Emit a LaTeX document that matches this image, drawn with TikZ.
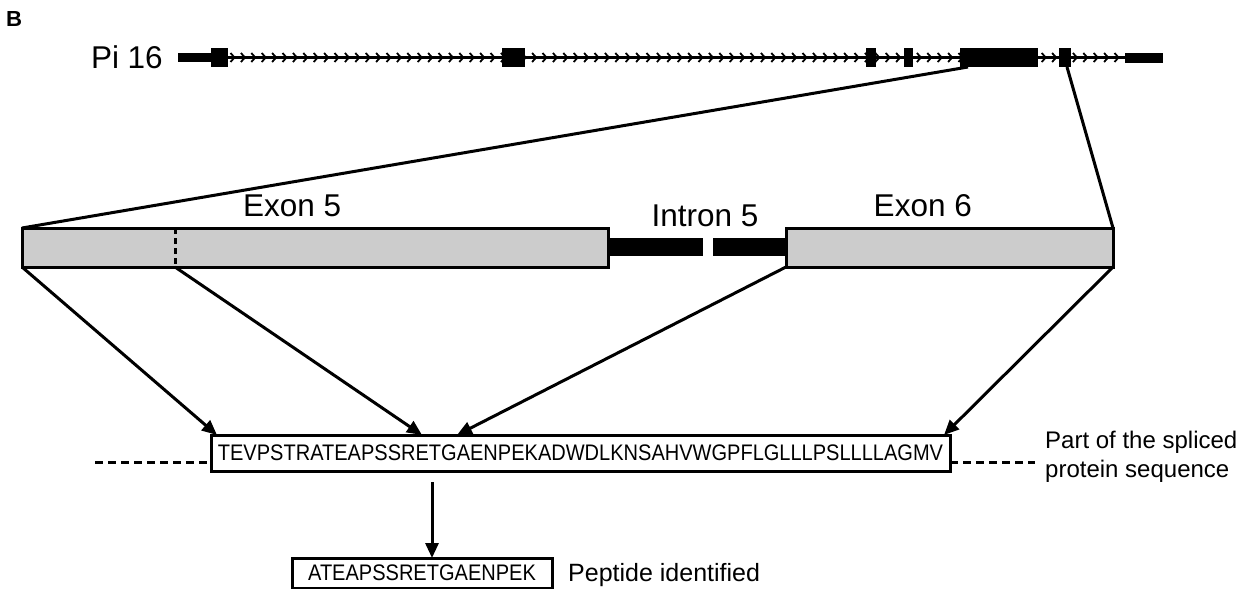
\documentclass[tikz,border=0pt]{standalone}
\usepackage{fontspec}
\setmainfont{Liberation Sans}
\newfontfamily\narrowfont[FakeStretch=0.89]{Liberation Sans}
\usetikzlibrary{arrows.meta,calc}
\definecolor{exgray}{HTML}{CCCCCC}
\tikzset{
  exonbox/.style={draw, line width=3pt, fill=exgray, inner sep=0pt, outer sep=0pt},
  blk/.style={fill=black, draw=none, inner sep=0pt, outer sep=0pt},
  seqbox/.style={draw, line width=3pt, fill=white, inner sep=0pt, outer sep=0pt},
  conn/.style={line width=3pt},
  arr/.style={line width=3pt, -{Triangle[length=15pt,width=13pt]}},
  dashline/.style={line width=3pt, dash pattern=on 8pt off 5pt},
  chev/.style={line width=1.8pt},
  lbl/.style={font=\fontsize{31.5}{36}\selectfont, inner sep=0pt},
  panel/.style={font=\fontsize{21}{25}\selectfont\bfseries, inner sep=0pt},
  side/.style={font=\fontsize{24}{29}\selectfont, inner sep=0pt, align=left},
  seqtxt/.style={font=\narrowfont\fontsize{22.5}{26}\selectfont}
}
\begin{document}
\begin{tikzpicture}[x=1pt,y=-1pt]
\useasboundingbox[fill=white] (0,0) rectangle (1253,589);

% panel letter
\node[panel, anchor=base west] (B) at (6,27) {\resizebox{16pt}{15pt}{B}};

% gene label
\node[lbl, anchor=base east] (pi) at (163,68) {Pi 16};

% gene structure
\node[blk, minimum width=33pt, minimum height=9pt] (g0) at (194.5,57.5) {};
\node[blk, minimum width=38pt, minimum height=10pt] (g7) at (1144,57.5) {};
\draw[line width=3pt] (g0.east) -- (g7.west);
\foreach \i in {0,...,85}
  \draw[chev] ({233+10.4*\i-2.5},53) -- ({233+10.4*\i+1.5},57.5) -- ({233+10.4*\i-2.5},62);
\node[blk, minimum width=17pt, minimum height=19pt] (e1) at (219.5,57.5) {};
\node[blk, minimum width=23pt, minimum height=19pt] (e2) at (513.5,57.5) {};
\node[blk, minimum width=10pt, minimum height=19pt] (e3) at (871,57.5) {};
\node[blk, minimum width=9pt, minimum height=19pt] (e4) at (908.5,57.5) {};
\node[blk, minimum width=78pt, minimum height=19pt] (e5) at (999,57.5) {};
\node[blk, minimum width=12pt, minimum height=19pt] (e6) at (1065,57.5) {};

% expanded region
\node[exonbox, minimum width=586pt, minimum height=39pt] (ex5) at (315,247.5) {};
\node[blk, minimum width=95pt, minimum height=18pt] (i1) at (655.5,247) {};
\node[blk, minimum width=73pt, minimum height=18pt] (i2) at (749.5,247) {};
\node[exonbox, minimum width=327pt, minimum height=39pt] (ex6) at (949.5,247.5) {};
\coordinate (d5t) at (175,228);
\coordinate (d5b) at (175,267);
\draw[line width=3pt, dash pattern=on 6pt off 4pt] (d5t) -- (d5b);

\node[lbl, anchor=base west] (l5) at (243,216) {Exon 5};
\node[lbl, anchor=base] (li5) at (705,226) {Intron 5};
\node[lbl, anchor=base east] (l6) at (972,216) {Exon 6};

% zoom lines
\draw[conn] ($(e5.south west)+(8,0)$) -- (ex5.north west);
\draw[conn] ($(e6.south)+(2,0)$) -- (ex6.north east);

% sequence
\node[seqbox, minimum width=739pt, minimum height=36pt, seqtxt] (seq) at (580.5,453) {TEVPSTRATEAPSSRETGAENPEKADWDLKNSAHVWGPFLGLLLPSLLLLAGMV};
\coordinate (dl) at (95,462);
\coordinate (dr) at (1035,462);
\draw[dashline] (dl) -- (dl -| seq.west);
\draw[dashline] (seq.east |- dr) -- (dr);
\node[side, anchor=west] (part) at (1045,457) {Part of the spliced\\protein sequence};

% arrows to sequence
\draw[arr] (ex5.south west) -- ($(seq.north west)+(6,0)$);
\draw[arr] (d5b) -- ($(seq.north west)+(211,0)$);
\draw[arr] (ex6.south west) -- ($(seq.north west)+(246,0)$);
\draw[arr] (ex6.south east) -- ($(seq.north east)+(-6,0)$);

% peptide
\node[seqbox, minimum width=260pt, minimum height=30pt, seqtxt] (pep) at (422,573) {ATEAPSSRETGAENPEK};
\coordinate (ds) at (432,482);
\draw[arr] (ds) -- (ds |- pep.north);
\node[side, anchor=base west, font=\fontsize{25}{29}\selectfont] (pid) at (568,581) {Peptide identified};
\end{tikzpicture}
\end{document}
